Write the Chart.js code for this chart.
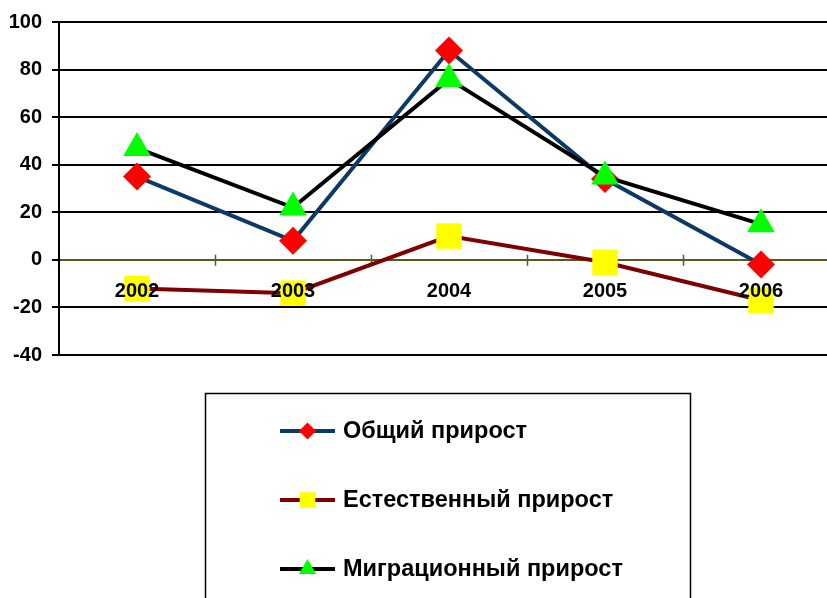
<!DOCTYPE html>
<html>
<head>
<meta charset="utf-8">
<script src="https://cdn.jsdelivr.net/npm/chart.js@4"></script>
<style>
    html, body { margin: 0; padding: 0; overflow: hidden; background: #fff; }
    #chart { display: block; }
</style>
</head>
<body>
<canvas id="chart" width="857" height="598"></canvas>
<script>
const years = ["2002", "2003", "2004", "2005", "2006"];
const totalGrowth = [35, 8, 88, 34, -2];
const naturalGrowth = [-12, -14, 10, -1, -17];
const migrationGrowth = [47, 22, 76, 35, 15];
const yTicks = [-40, -20, 0, 20, 40, 60, 80, 100];
const seriesNames = ["Общий прирост", "Естественный прирост", "Миграционный прирост"];

const FONT = "'Liberation Sans', Arial, sans-serif";
const OLIVE = "#5a5a1e";

// marker for the legend, same shapes as chart.js points
function drawMarker(ctx, style, x, y, r, color) {
    ctx.fillStyle = color;
    ctx.beginPath();
    if (style === "rectRot") {
        ctx.moveTo(x, y - r);
        ctx.lineTo(x + r, y);
        ctx.lineTo(x, y + r);
        ctx.lineTo(x - r, y);
    } else if (style === "rect") {
        const h = r * Math.SQRT1_2;
        ctx.rect(x - h, y - h, 2 * h, 2 * h);
    } else {
        const a = 2 * Math.PI / 3;
        ctx.moveTo(x, y - r);
        ctx.lineTo(x + Math.sin(a) * r, y - Math.cos(a) * r);
        ctx.lineTo(x + Math.sin(2 * a) * r, y - Math.cos(2 * a) * r);
    }
    ctx.closePath();
    ctx.fill();
}

// small tick marks crossing the zero line, between the categories
const zeroTicks = {
    id: "zeroTicks",
    beforeDatasetsDraw(chart) {
        const x = chart.scales.x, y = chart.scales.y;
        const y0 = y.getPixelForValue(0);
        const half = (x.getPixelForTick(1) - x.getPixelForTick(0)) / 2;
        const ctx = chart.ctx;
        ctx.save();
        ctx.strokeStyle = OLIVE;
        ctx.lineWidth = 1.5;
        ctx.beginPath();
        for (let i = 0; i < years.length - 1; i++) {
            const px = Math.round(x.getPixelForTick(i) + half) + 0.5;
            ctx.moveTo(px, y0 - 5);
            ctx.lineTo(px, y0 + 6);
        }
        ctx.stroke();
        ctx.restore();
    }
};

const legendBox = {
    id: "legendBox",
    afterDraw(chart) {
        const ctx = chart.ctx;
        ctx.save();
        ctx.strokeStyle = "#000";
        ctx.lineWidth = 1.5;
        ctx.strokeRect(205.5, 393.5, 485, 240);
        chart.data.datasets.forEach((ds, i) => {
            const y = 431 + i * 69;
            ctx.strokeStyle = ds.borderColor;
            ctx.lineWidth = 4;
            ctx.beginPath();
            ctx.moveTo(280, y);
            ctx.lineTo(335, y);
            ctx.stroke();
            drawMarker(ctx, ds.pointStyle, 307.5, y, ds.legendRadius, ds.pointBackgroundColor);
            ctx.fillStyle = "#000";
            ctx.font = "bold 23.5px " + FONT;
            ctx.textBaseline = "middle";
            ctx.fillText(ds.label, 343, y + 1);
        });
        ctx.restore();
    }
};

new Chart(document.getElementById("chart"), {
    type: "line",
    data: {
        labels: years,
        datasets: [
            {
                label: seriesNames[0],
                data: totalGrowth,
                borderColor: "#0b3a66",
                borderWidth: 4,
                pointStyle: "rectRot",
                pointRadius: 14,
                pointBackgroundColor: "#ff0000",
                pointBorderWidth: 0,
                legendRadius: 8.5,
                order: 3
            },
            {
                label: seriesNames[1],
                data: naturalGrowth,
                borderColor: "#7f0000",
                borderWidth: 4,
                pointStyle: "rect",
                pointRadius: 18,
                pointBackgroundColor: "#ffff00",
                pointBorderWidth: 0,
                legendRadius: 11,
                order: 2
            },
            {
                label: seriesNames[2],
                data: migrationGrowth,
                borderColor: "#000000",
                borderWidth: 4,
                pointStyle: "triangle",
                pointRadius: 16,
                pointBackgroundColor: "#00ff00",
                pointBorderWidth: 0,
                legendRadius: 10,
                order: 1
            }
        ]
    },
    options: {
        responsive: false,
        animation: false,
        layout: { padding: { top: 21, bottom: 243, left: 0, right: 1 } },
        plugins: {
            legend: { display: false },
            tooltip: { enabled: false }
        },
        scales: {
            x: {
                position: { y: 0 },
                offset: true,
                afterFit: s => { s.height = 0; },
                grid: {
                    offset: true,
                    drawOnChartArea: false,
                    drawTicks: false,
                    color: OLIVE,
                    lineWidth: 1.5
                },
                border: { color: OLIVE, width: 1.5 },
                ticks: {
                    z: 1,
                    color: "#000",
                    padding: 20,
                    maxRotation: 0,
                    font: { family: FONT, size: 20, weight: "bold" }
                }
            },
            y: {
                min: -40,
                max: 100,
                afterBuildTicks: s => { s.ticks = yTicks.map(v => ({ value: v })); },
                afterFit: s => { s.width = 59; },
                grid: {
                    color: c => (c.tick && c.tick.value === 0 ? OLIVE : "#000"),
                    lineWidth: 2,
                    tickLength: 7,
                    tickColor: "#000"
                },
                border: { color: "#000", width: 2 },
                ticks: {
                    color: "#000",
                    padding: 10,
                    font: { family: FONT, size: 20, weight: "bold" }
                }
            }
        }
    },
    plugins: [zeroTicks, legendBox]
});
</script>
</body>
</html>
